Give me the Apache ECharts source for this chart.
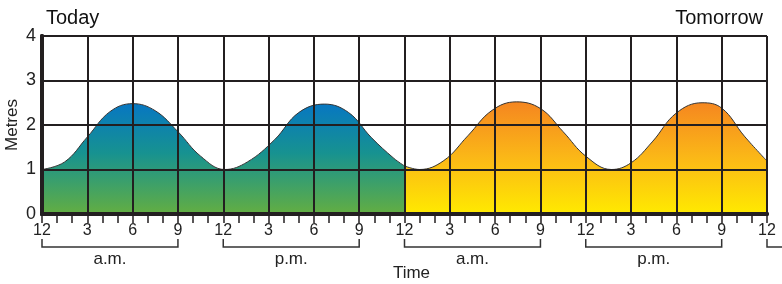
<!DOCTYPE html>
<html>
<head>
    <meta charset="utf-8">
    <title>Tides</title>
    <script src="https://cdn.jsdelivr.net/npm/echarts@6/dist/echarts.min.js"></script>
</head>
<body style="margin:0;background:#fff">
    <div id="main" style="width: 782px;height:284px;"></div>
    <script type="text/javascript">
    // hours from midnight today, tide height in metres
    var todayHours = [0, 1.5, 3, 4.5, 6, 7.5, 9, 10.5, 12.1,
                      13.6, 15.4, 17, 18.7, 20.3, 21.8, 23.3, 24];
    var todayHeights = [1.00, 1.17, 1.73, 2.30, 2.48, 2.32, 1.85, 1.30, 1.00,
                        1.17, 1.67, 2.28, 2.47, 2.28, 1.72, 1.25, 1.08];
    var tomorrowHours = [24, 25, 26.6, 28.2, 29.8, 31.4, 33, 34.5, 36, 37.7,
                         39, 40.4, 42, 43.7, 45, 46.5, 48];
    var tomorrowHeights = [1.08, 1.00, 1.20, 1.76, 2.33, 2.52, 2.37, 1.85, 1.30, 1.00,
                           1.15, 1.62, 2.27, 2.50, 2.38, 1.75, 1.19];
    var hourTicks = ['12', '3', '6', '9'];
    var periods = ['a.m.', 'p.m.', 'a.m.', 'p.m.'];

    var ink = '#231f20';
    var font = 'Liberation Sans, Arial, sans-serif';

    function pairs(xs, ys) {
        return xs.map(function (x, i) { return [x, ys[i]]; });
    }

    var myChart = echarts.init(document.getElementById('main'));

    var option = {
        animation: false,
        textStyle: { fontFamily: font },
        grid: { left: 42, right: 15, top: 36, bottom: 70, outerBoundsMode: 'none' },
        title: [
            { text: 'Today', left: 41, top: 3, textStyle: { fontSize: 20, fontWeight: 'normal', color: '#111', fontFamily: font } },
            { text: 'Tomorrow', right: 14, top: 3, textStyle: { fontSize: 20, fontWeight: 'normal', color: '#111', fontFamily: font } }
        ],
        xAxis: [{
            type: 'value', min: 0, max: 48, interval: 3, position: 'bottom', z: 5,
            axisLine: { show: true, lineStyle: { color: ink, width: 4 } },
            axisTick: { show: false },
            axisLabel: {
                fontSize: 16, color: '#222', margin: 9,
                formatter: function (v) { return hourTicks[(v % 12) / 3]; }
            },
            splitLine: { show: true, lineStyle: { color: ink, width: 2 } },
            name: 'Time', nameLocation: 'middle', nameGap: 51, nameMoveOverlap: false,
            nameTextStyle: { fontSize: 17, color: '#222', padding: [0, 0, 0, 14] }
        }, {
            type: 'value', min: 0, max: 48, interval: 1, position: 'top', z: 5,
            axisLine: { show: true, lineStyle: { color: ink, width: 4 } },
            axisTick: { show: true, inside: true, length: 9, lineStyle: { color: ink, width: 1.5 } },
            axisLabel: { show: false },
            splitLine: { show: false }
        }],
        yAxis: [{
            type: 'value', min: 0, max: 4, interval: 1, z: 5,
            axisLine: { show: true, lineStyle: { color: ink, width: 4 } },
            axisTick: { show: false },
            axisLabel: { fontSize: 18, color: '#222', margin: 6 },
            splitLine: { show: true, lineStyle: { color: ink, width: 2 } },
            name: 'Metres', nameLocation: 'middle', nameGap: 21, nameRotate: 90, nameMoveOverlap: false,
            nameTextStyle: { fontSize: 17, color: '#222' }
        }, {
            type: 'value', min: 0, max: 4, position: 'right', z: 5,
            axisLine: { show: true, lineStyle: { color: ink, width: 4 } },
            axisTick: { show: false }, axisLabel: { show: false }, splitLine: { show: false }
        }],
        series: [{
            name: 'Today', type: 'line', smooth: 0.4, symbol: 'none', z: 2,
            data: pairs(todayHours, todayHeights),
            lineStyle: { color: '#333', width: 1 },
            areaStyle: {
                opacity: 1,
                color: new echarts.graphic.LinearGradient(0, 0, 0, 1, [
                    { offset: 0, color: '#0777c2' },
                    { offset: 0.45, color: '#179290' },
                    { offset: 1, color: '#63ae42' }
                ])
            }
        }, {
            name: 'Tomorrow', type: 'line', smooth: 0.4, symbol: 'none', z: 2,
            data: pairs(tomorrowHours, tomorrowHeights),
            lineStyle: { color: '#333', width: 1 },
            areaStyle: {
                opacity: 1,
                color: new echarts.graphic.LinearGradient(0, 0, 0, 1, [
                    { offset: 0, color: '#f58620' },
                    { offset: 0.5, color: '#fbb817' },
                    { offset: 1, color: '#ffea00' }
                ])
            }
        }]
    };
    myChart.setOption(option);

    // a.m. / p.m. brackets under the hour labels
    var graphics = [];
    var base = myChart.convertToPixel({ yAxisIndex: 0 }, 0);
    for (var i = 0; i <= periods.length; i++) {
        var x1 = myChart.convertToPixel({ xAxisIndex: 0 }, i * 12);
        var x2 = myChart.convertToPixel({ xAxisIndex: 0 }, i * 12 + 9);
        graphics.push({
            type: 'polyline',
            shape: { points: [[x1, base + 25], [x1, base + 33], [x2, base + 33], [x2, base + 25]] },
            style: { stroke: '#333', lineWidth: 1.5, fill: null }
        });
        if (i < periods.length) {
            graphics.push({
                type: 'text', x: (x1 + x2) / 2, y: base + 45,
                style: { text: periods[i], fill: '#222', font: '17px ' + font, textAlign: 'center', textVerticalAlign: 'middle' }
            });
        }
    }
    myChart.setOption({ graphic: graphics });
    </script>
</body>
</html>
